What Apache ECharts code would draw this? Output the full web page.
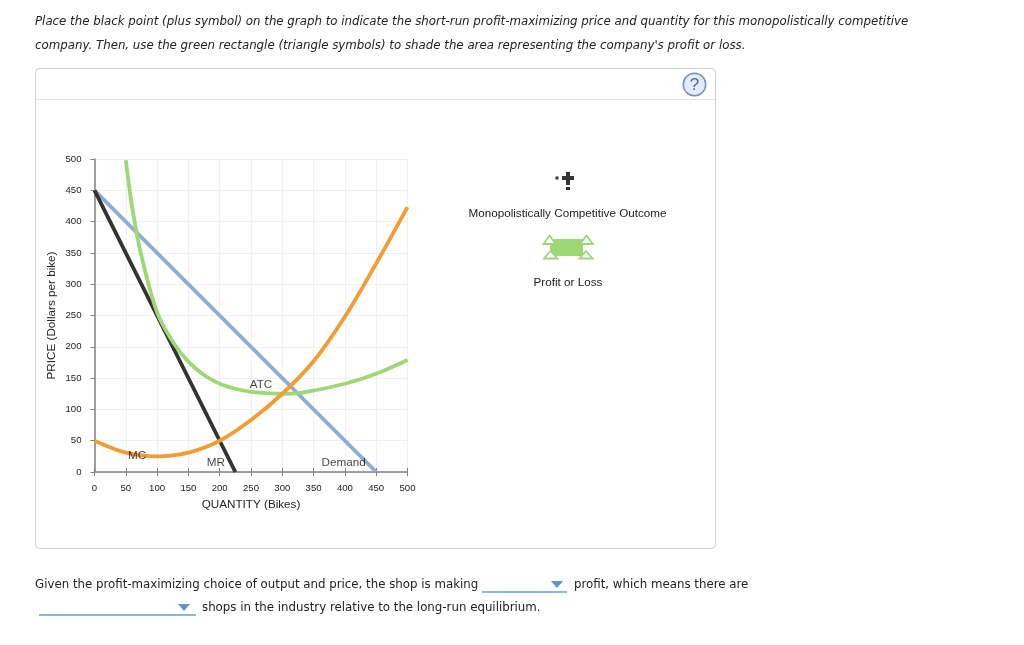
<!DOCTYPE html>
<html>
<head>
<meta charset="utf-8">
<style>
  html, body { margin: 0; padding: 0; background: #fff; }
  #chart { width: 1024px; height: 645px; }
</style>
<script src="https://cdn.jsdelivr.net/npm/echarts@6/dist/echarts.min.js"></script>
</head>
<body>
<div id="chart"></div>
<script>
// values: [quantity, price]
var demandPoints = [[0, 450], [450, 0]];
var mrPoints = [[0, 450], [225, 0]];
var atcPoints = [[50, 498], [60, 424], [75, 345], [100, 255], [125, 208], [150, 176], [175, 155], [200, 141], [225, 133], [250, 128], [275, 126], [300, 125], [325, 126], [350, 130], [400, 141], [450, 157], [500, 179]];
var mcPoints = [[0, 50], [50, 31], [100, 25], [150, 31], [200, 50], [250, 83], [300, 125], [350, 177], [400, 248], [450, 333], [500, 423]];

var curveLabels = ['ATC', 'MC', 'MR', 'Demand'];
var labelQuantity = [266, 68, 194, 398];
var labelPrice = [140, 26, 14, 14];

var axisTicks = 50;
var axisMax = 500;

var questionLines = [
    'Place the black point (plus symbol) on the graph to indicate the short-run profit-maximizing price and quantity for this monopolistically competitive',
    "company. Then, use the green rectangle (triangle symbols) to shade the area representing the company's profit or loss."
];
var answerParts = [
    'Given the profit-maximizing choice of output and price, the shop is making',
    'profit, which means there are',
    'shops in the industry relative to the long-run equilibrium.'
];

var sansFont = '"Liberation Sans", Arial, sans-serif';
var verdanaFont = '"DejaVu Sans", Verdana, sans-serif';
var axisGrey = '#808080';

function pageText(x, y, text, size, font, extra) {
    var style = { x: x, y: y, text: text, fontSize: size, fontFamily: font, fill: '#222', textVerticalAlign: 'middle' };
    for (var k in extra) style[k] = extra[k];
    return { type: 'text', style: style, silent: true };
}
function triangle(ax, ay, lx, rx, by) {
    return {
        type: 'polygon',
        shape: { points: [[ax, ay], [rx, by], [lx, by]] },
        style: { fill: '#fff', stroke: '#9dd776', lineWidth: 1.8 },
        silent: true
    };
}
function dropdown(x1, x2, y, tx) {
    return [
        { type: 'line', shape: { x1: x1, y1: y, x2: x2, y2: y }, style: { stroke: '#6b9bd2', lineWidth: 1.5 }, silent: true },
        { type: 'polygon', shape: { points: [[tx - 6, y - 11], [tx + 6, y - 11], [tx, y - 4]] }, style: { fill: '#5f95cf' }, silent: true }
    ];
}
function curve(name, points, color, smooth) {
    return {
        name: name,
        type: 'line',
        data: points,
        smooth: smooth,
        symbol: 'none',
        lineStyle: { color: color, width: 3.8 },
        silent: true
    };
}

var labelData = curveLabels.map(function (name, i) {
    return { name: name, value: [labelQuantity[i], labelPrice[i]] };
});

var graphics = [
    { type: 'rect', shape: { x: 35.5, y: 68.5, width: 680, height: 480, r: 4 }, style: { fill: '#fff', stroke: '#cfcfcf', lineWidth: 1 }, silent: true, z: -1 },
    { type: 'line', shape: { x1: 36, y1: 99.5, x2: 715, y2: 99.5 }, style: { stroke: '#e6e6e6', lineWidth: 1 }, silent: true },
    { type: 'circle', shape: { cx: 694.5, cy: 84.5, r: 11.2 }, style: { fill: '#e3ebf5', stroke: '#6f93bd', lineWidth: 1.5 }, silent: true },
    pageText(694.5, 85, '?', 17, sansFont, { fill: '#45699b', textAlign: 'center' }),

    pageText(35, 21.5, questionLines[0], 11.8, verdanaFont, { fontStyle: 'italic' }),
    pageText(35, 45.5, questionLines[1], 11.8, verdanaFont, { fontStyle: 'italic' }),

    pageText(35, 585, answerParts[0], 11.8, verdanaFont),
    pageText(574, 585, answerParts[1], 11.8, verdanaFont),
    pageText(202, 608, answerParts[2], 11.8, verdanaFont),

    // legend glyphs on the right
    { type: 'rect', shape: { x: 562, y: 176, width: 12, height: 4 }, style: { fill: '#333' }, silent: true },
    { type: 'rect', shape: { x: 566, y: 172, width: 4, height: 13 }, style: { fill: '#333' }, silent: true },
    { type: 'rect', shape: { x: 555.5, y: 176.5, width: 3, height: 3 }, style: { fill: '#333' }, silent: true },
    { type: 'rect', shape: { x: 566, y: 187, width: 4, height: 3 }, style: { fill: '#333' }, silent: true },
    pageText(567.5, 214, 'Monopolistically Competitive Outcome', 11.7, sansFont, { textAlign: 'center' }),
    { type: 'rect', shape: { x: 550, y: 239, width: 33, height: 17 }, style: { fill: '#9dd776' }, silent: true },
    triangle(549.5, 235.5, 543.5, 555.5, 244),
    triangle(586.5, 235.5, 580, 593, 244),
    triangle(550.5, 251, 544, 557.5, 258.5),
    triangle(586, 251, 579.5, 592.5, 258.5),
    pageText(568, 283, 'Profit or Loss', 11.7, sansFont, { textAlign: 'center' })
].concat(dropdown(482, 567, 592, 557), dropdown(39, 196, 615, 184));

var myChart = echarts.init(document.getElementById('chart'), null, { renderer: 'canvas' });
myChart.setOption({
    animation: false,
    backgroundColor: '#fff',
    graphic: graphics,
    grid: { left: 94.5, top: 159, width: 313, height: 313 },
    xAxis: [{
        type: 'value',
        min: 0,
        max: axisMax,
        interval: axisTicks,
        name: 'QUANTITY (Bikes)',
        nameLocation: 'middle',
        nameGap: 27,
        nameTextStyle: { fontFamily: sansFont, fontSize: 11.7, color: '#222' },
        axisLine: { show: true, onZero: false, lineStyle: { color: axisGrey, width: 1.5 } },
        axisTick: { show: true, length: 4, lineStyle: { color: axisGrey } },
        axisLabel: { fontFamily: sansFont, fontSize: 9.6, color: '#222', margin: 11 },
        splitLine: { show: true, lineStyle: { color: '#f0f0f0', width: 1.2 } }
    }, {
        // second axis only for the upper half of the cross ticks
        type: 'value',
        position: 'bottom',
        min: 0,
        max: axisMax,
        interval: axisTicks,
        axisLine: { show: false },
        axisTick: { show: true, inside: true, length: 4, lineStyle: { color: axisGrey } },
        axisLabel: { show: false },
        splitLine: { show: false }
    }],
    yAxis: {
        type: 'value',
        min: 0,
        max: axisMax,
        interval: axisTicks,
        name: 'PRICE (Dollars per bike)',
        nameLocation: 'middle',
        nameGap: 37,
        nameTextStyle: { fontFamily: sansFont, fontSize: 11.7, color: '#222' },
        axisLine: { show: true, onZero: false, lineStyle: { color: axisGrey, width: 1.5 } },
        axisTick: { show: true, length: 4, lineStyle: { color: axisGrey } },
        axisLabel: { fontFamily: sansFont, fontSize: 9.6, color: '#222', margin: 13 },
        splitLine: { show: true, lineStyle: { color: '#f0f0f0', width: 1.2 } }
    },
    series: [
        curve('Demand', demandPoints, '#8aaed6', false),
        curve('MR', mrPoints, '#333333', false),
        curve('ATC', atcPoints, '#9dd776', 0.33),
        curve('MC', mcPoints, '#f39c34', 0.33),
        {
            name: 'labels',
            type: 'scatter',
            data: labelData,
            symbolSize: 0,
            silent: true,
            z: 5,
            label: {
                show: true,
                position: 'inside',
                formatter: '{b}',
                fontFamily: sansFont,
                fontSize: 11.7,
                color: '#111'
            }
        }
    ]
});
</script>
</body>
</html>
